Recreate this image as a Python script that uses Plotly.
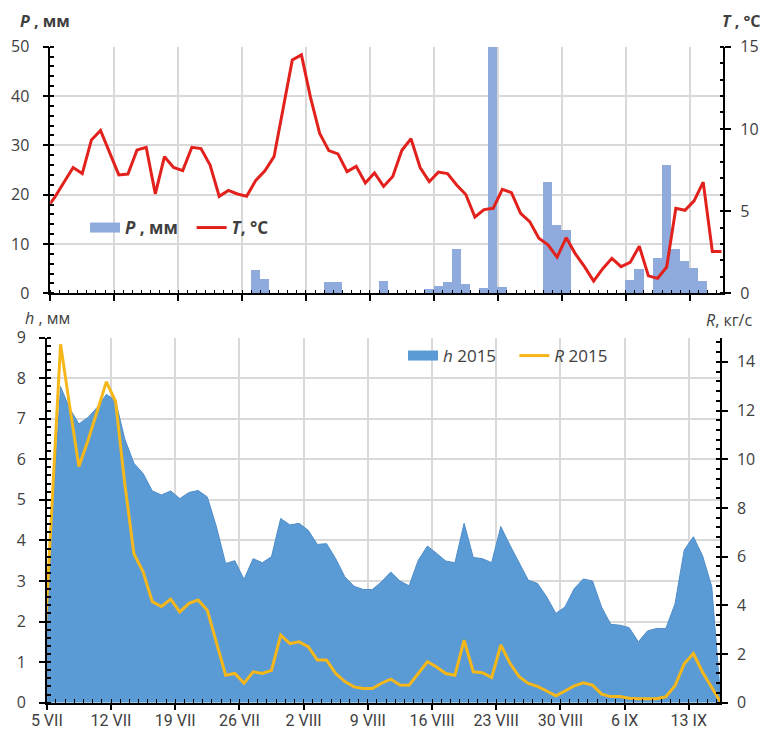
import plotly.graph_objects as go
import pandas as pd

# ---------------- data (daily values, plotted at midday) ----------------
dates = pd.date_range("2015-07-04 12:00", periods=75, freq="D")

P_mm = [0,
        0, 0, 0, 0, 0, 0, 0, 0, 0, 0, 0, 0, 0, 0, 0, 0, 0, 0, 0, 0, 0, 0,
        4.7, 3.0,
        0, 0, 0, 0, 0, 0,
        2.4, 2.4,
        0, 0, 0, 0,
        2.6,
        0, 0, 0, 0,
        1.0, 1.6, 2.3, 9.1, 2.0, 0, 1.1, 50, 1.35,
        0, 0, 0, 0,
        22.6, 13.9, 12.8,
        0, 0, 0, 0, 0, 0,
        2.8, 5.0, 0, 7.2, 26.0, 9.1, 6.7, 5.2, 2.6,
        0, 0]

T_C = [5.1, 5.85, 6.75, 7.65, 7.28, 9.33, 9.9, 8.6, 7.2, 7.25, 8.72, 8.88, 6.05,
       8.31, 7.65, 7.46, 8.88, 8.8, 7.8, 5.9, 6.26, 6.04, 5.9, 6.87, 7.45, 8.31,
       11.15, 14.19, 14.5, 11.9, 9.73, 8.68, 8.48, 7.4, 7.72, 6.71, 7.32, 6.5,
       7.1, 8.7, 9.4, 7.65, 6.79, 7.37, 7.28, 6.59, 6.01, 4.64, 5.09, 5.17, 6.32,
       6.12, 4.87, 4.36, 3.35, 2.95, 2.2, 3.38, 2.4, 1.62, 0.74, 1.5, 2.13, 1.62,
       1.88, 2.86, 1.06, 0.91, 1.6, 5.17, 5.05, 5.62, 6.76, 2.55, 2.55]

h_mm = [0.66, 4.22, 7.79, 7.25, 6.87, 7.03, 7.28, 7.6, 7.44, 6.5, 5.9, 5.65, 5.22,
        5.12, 5.22, 5.03, 5.18, 5.23, 5.07, 4.33, 3.43, 3.5, 3.04, 3.55, 3.45, 3.6,
        4.54, 4.38, 4.42, 4.25, 3.9, 3.92, 3.55, 3.1, 2.87, 2.79, 2.79, 2.98, 3.22,
        3.0, 2.88, 3.51, 3.86, 3.68, 3.49, 3.45, 4.42, 3.58, 3.55, 3.45, 4.34, 3.88,
        3.43, 3.02, 2.94, 2.61, 2.2, 2.36, 2.81, 3.05, 3.0, 2.35, 1.93, 1.91, 1.85,
        1.5, 1.77, 1.83, 1.83, 2.44, 3.76, 4.09, 3.62, 2.86, 0.0]

R_kgs = [0.6, 7.66, 14.72, 12.17, 9.7, 10.78, 12.02, 13.18, 12.37, 9.0, 6.12, 5.38,
         4.15, 3.95, 4.25, 3.73, 4.08, 4.22, 3.8, 2.43, 1.13, 1.2, 0.8, 1.27, 1.2,
         1.33, 2.78, 2.43, 2.5, 2.3, 1.75, 1.75, 1.2, 0.87, 0.65, 0.58, 0.58, 0.8,
         0.97, 0.73, 0.72, 1.2, 1.68, 1.47, 1.2, 1.13, 2.57, 1.27, 1.23, 1.03, 2.37,
         1.62, 1.07, 0.79, 0.67, 0.48, 0.28, 0.48, 0.69, 0.82, 0.72, 0.35, 0.25,
         0.25, 0.18, 0.16, 0.16, 0.16, 0.25, 0.7, 1.6, 2.02, 1.25, 0.6, 0.0]

tick_dates = ["2015-07-05", "2015-07-12", "2015-07-19", "2015-07-26", "2015-08-02",
              "2015-08-09", "2015-08-16", "2015-08-23", "2015-08-30", "2015-09-06",
              "2015-09-13"]
tick_labels = ["5 VII", "12 VII", "19 VII", "26 VII", "2 VIII", "9 VIII", "16 VIII",
               "23 VIII", "30 VIII", "6 IX", "13 IX"]

# ---------------- styling ----------------
W, H = 770, 731
BAR_C = "#8FAADC"
RED_C = "#E3211C"
AREA_C = "#5B9BD5"
GOLD_C = "#F5B71A"
GRID_C = "#D9D9D9"
TXT_C = "#404040"
FONT = "Open Sans"
DAY = 86400000


def dx(a, b):
    return [a / W, b / W]


def dy(top, bottom):
    return [1 - bottom / H, 1 - top / H]


tickfont = dict(family=FONT, size=16, color=TXT_C)
xfont = dict(family="Roboto", size=16, color=TXT_C)

common = dict(showline=True, linecolor="black", linewidth=1.5, ticks="outside",
              ticklen=6, tickcolor="black", tickwidth=1.5, zeroline=False,
              automargin=False)

fig = go.Figure()

fig.add_trace(go.Bar(x=dates, y=P_mm, width=DAY, marker=dict(color=BAR_C, line=dict(width=0)),
                     xaxis="x", yaxis="y", showlegend=False))
fig.add_trace(go.Scatter(x=dates, y=T_C, mode="lines", line=dict(color=RED_C, width=3),
                         xaxis="x", yaxis="y2", showlegend=False))
# legend proxies (top)
fig.add_trace(go.Scatter(x=[None], y=[None], mode="lines", line=dict(color=BAR_C, width=10),
                         name="<b><i>P</i> , мм</b>&nbsp;&nbsp;", legend="legend",
                         xaxis="x", yaxis="y"))
fig.add_trace(go.Scatter(x=[None], y=[None], mode="lines", line=dict(color=RED_C, width=3),
                         name="<b><i>T</i>, °C</b>", legend="legend", xaxis="x", yaxis="y"))

fig.add_trace(go.Scatter(x=dates, y=h_mm, mode="lines", fill="tozeroy", fillcolor=AREA_C,
                         line=dict(color="#4E8CC8", width=1), xaxis="x2", yaxis="y3",
                         showlegend=False))
fig.add_trace(go.Scatter(x=dates, y=R_kgs, mode="lines", line=dict(color=GOLD_C, width=3),
                         xaxis="x2", yaxis="y4", showlegend=False))
# legend proxies (bottom)
fig.add_trace(go.Scatter(x=[None], y=[None], mode="lines", line=dict(color=AREA_C, width=12),
                         name="<i>h</i> 2015&nbsp;&nbsp;&nbsp;", legend="legend2",
                         xaxis="x2", yaxis="y3"))
fig.add_trace(go.Scatter(x=[None], y=[None], mode="lines", line=dict(color=GOLD_C, width=3),
                         name="<i>R</i> 2015", legend="legend2", xaxis="x2", yaxis="y3"))

minor_x = dict(dtick=DAY, tick0="2015-07-05", ticks="inside", ticklen=4,
               tickcolor="black", tickwidth=1, showgrid=False)

fig.update_layout(
    width=W, height=H, autosize=False,
    margin=dict(l=0, r=0, t=0, b=0, pad=0, autoexpand=False),
    paper_bgcolor="white", plot_bgcolor="white",
    font=dict(family=FONT, color=TXT_C),
    bargap=0,
    xaxis=dict(domain=dx(50.3, 723.3), anchor="y", type="date",
               range=["2015-07-05 00:00", "2015-09-16 16:48"],
               tickvals=tick_dates, ticktext=tick_labels, showticklabels=False,
               showgrid=True, gridcolor=GRID_C, gridwidth=1.5, minor=minor_x, **common),
    yaxis=dict(domain=dy(46.7, 293.3), anchor="x", range=[0, 50], dtick=10,
               showgrid=True, gridcolor=GRID_C, gridwidth=1.5, tickfont=tickfont,
               ticklabelstandoff=10,
               minor=dict(dtick=2, ticks="inside", ticklen=4, tickcolor="black", showgrid=False),
               **common),
    yaxis2=dict(overlaying="y", side="right", anchor="x", range=[0, 15], dtick=5,
                showgrid=False, tickfont=tickfont, ticklabelstandoff=6,
                minor=dict(dtick=1, ticks="inside", ticklen=4, tickcolor="black", showgrid=False),
                **common),
    xaxis2=dict(domain=dx(46.8, 720.0), anchor="y3", type="date",
                range=["2015-07-05 00:00", "2015-09-16 09:36"],
                tickvals=tick_dates, ticktext=tick_labels, tickfont=xfont,
                ticklabelstandoff=-4,
                showgrid=True, gridcolor=GRID_C, gridwidth=1.5, minor=minor_x, **common),
    yaxis3=dict(domain=dy(337.5, 702.7), anchor="x2", range=[0, 9], dtick=1,
                showgrid=True, gridcolor=GRID_C, gridwidth=1.5, tickfont=tickfont,
                ticklabelstandoff=10,
                minor=dict(dtick=0.2, ticks="inside", ticklen=4, tickcolor="black", showgrid=False),
                **common),
    yaxis4=dict(overlaying="y3", side="right", anchor="x2", range=[0, 15],
                tickvals=[0, 2, 4, 6, 8, 10, 12, 14], showgrid=False, tickfont=tickfont,
                ticklabelstandoff=6,
                minor=dict(dtick=0.4, ticks="inside", ticklen=4, tickcolor="black", showgrid=False),
                **common),
    legend=dict(x=85 / W, y=1 - 228 / H, xanchor="left", yanchor="middle",
                orientation="h", bgcolor="rgba(0,0,0,0)", itemwidth=30,
                font=dict(family=FONT, size=17, color=TXT_C)),
    legend2=dict(x=403 / W, y=1 - 356 / H, xanchor="left", yanchor="middle",
                 orientation="h", bgcolor="rgba(0,0,0,0)", itemwidth=30,
                 font=dict(family=FONT, size=17, color=TXT_C)),
    annotations=[
        dict(text="<b><i>P</i> , мм</b>", x=18 / W, y=1 - 21 / H, xref="paper", yref="paper",
             xanchor="left", yanchor="middle", showarrow=False,
             font=dict(family=FONT, size=16, color=TXT_C)),
        dict(text="<b><i>T</i> , °C</b>", x=762 / W, y=1 - 21 / H, xref="paper", yref="paper",
             xanchor="right", yanchor="middle", showarrow=False,
             font=dict(family=FONT, size=16, color=TXT_C)),
        dict(text="<i>h</i> , мм", x=23 / W, y=1 - 318 / H, xref="paper", yref="paper",
             xanchor="left", yanchor="middle", showarrow=False,
             font=dict(family=FONT, size=16, color=TXT_C)),
        dict(text="<i>R</i>, кг/с", x=754 / W, y=1 - 320 / H, xref="paper", yref="paper",
             xanchor="right", yanchor="middle", showarrow=False,
             font=dict(family=FONT, size=16, color=TXT_C)),
    ],
)

fig.write_html("out.html", config={"displayModeBar": False},
               post_script="document.body.style.margin='0';")
